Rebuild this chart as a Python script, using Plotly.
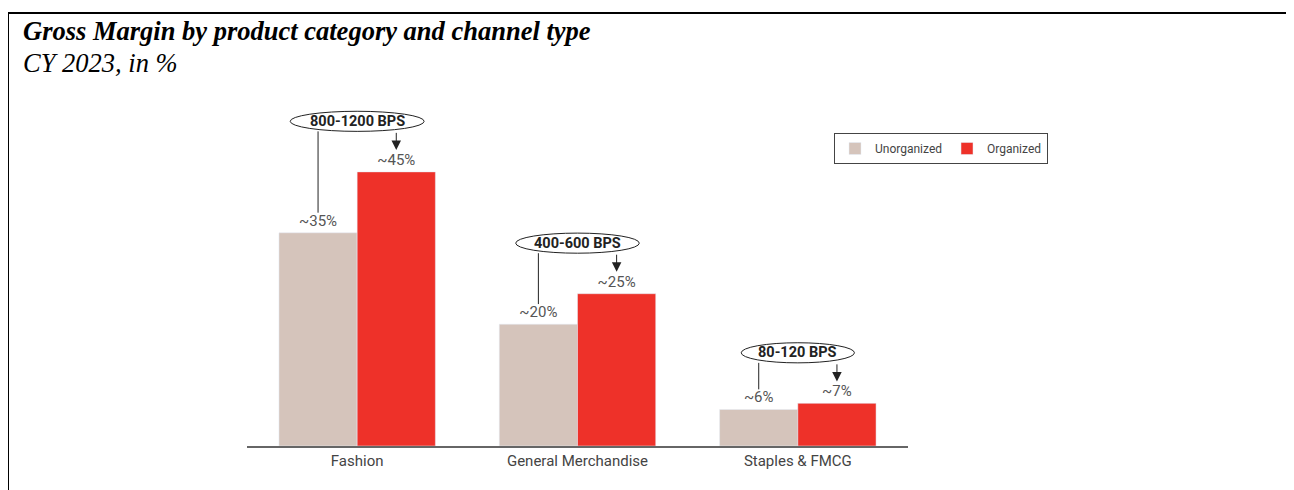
import plotly.graph_objects as go

categories = ["Fashion", "General Merchandise", "Staples & FMCG"]
unorganized = [35, 20, 6]
organized = [45, 25, 7]
bps_labels = ["800-1200 BPS", "400-600 BPS", "80-120 BPS"]
unorg_text = ["~35%", "~20%", "~6%"]
org_text = ["~45%", "~25%", "~7%"]

W, H = 1294, 490
O = 8  # page body offset
# plot area in window pixels: x 247..908, y 100..446
ml = 247 - O
mr = W - (908 - O)
mt = 100 - O
mb = H - (446 - O)
pw, ph = W - ml - mr, H - mt - mb
ymax = 56.8

xs = list(range(len(categories)))
bargap = 0.29
bw = (1 - bargap) / 2

fig = go.Figure()
fig.add_bar(x=xs, y=unorganized, name="Unorganized", marker_color="#D5C4BB",
            text=unorg_text, textposition="outside", cliponaxis=False,
            textfont=dict(family="Roboto", size=15, color="#555555"))
fig.add_bar(x=xs, y=organized, name="Organized", marker_color="#EE3129",
            text=org_text, textposition="outside", cliponaxis=False,
            textfont=dict(family="Roboto", size=15, color="#555555"))

shapes = []
annotations = []
for i in xs:
    xu = i - bw / 2
    xo = i + bw / 2
    ey = organized[i] + 8.3
    eh = 1.65
    ew = 0.0235 * len(bps_labels[i]) + 0.022
    shapes.append(dict(type="circle", xref="x", yref="y",
                       x0=i - ew, x1=i + ew, y0=ey - eh, y1=ey + eh,
                       line=dict(color="#222222", width=1), fillcolor="white", layer="above"))
    shapes.append(dict(type="line", xref="x", yref="y", x0=xu, x1=xu,
                       y0=ey - eh, y1=unorganized[i] + 3.3,
                       line=dict(color="#222222", width=1), layer="below"))
    annotations.append(dict(x=xo, y=organized[i] + 3.6, ax=xo, ay=ey - eh,
                            xref="x", yref="y", axref="x", ayref="y", text="",
                            showarrow=True, arrowhead=2, arrowsize=1.9, arrowwidth=1,
                            arrowcolor="#222222"))
    annotations.append(dict(x=i, y=ey, xref="x", yref="y", text="<b>" + bps_labels[i] + "</b>",
                            showarrow=False, font=dict(family="Roboto", size=14.5, color="#222222")))

# convert window pixel -> paper coords
px = lambda p: (p - O - ml) / pw
py = lambda p: (H - mb - (p - O)) / ph
shapes.append(dict(type="line", xref="paper", yref="paper", x0=px(8), x1=px(1310), y0=py(13), y1=py(13),
                   line=dict(color="black", width=2)))
shapes.append(dict(type="line", xref="paper", yref="paper", x0=px(8), x1=px(8), y0=py(13), y1=py(510),
                   line=dict(color="black", width=2)))

annotations.append(dict(xref="paper", yref="paper", x=px(21), y=py(31), xanchor="left", yanchor="middle",
                        text="<b><i>Gross Margin by product category and channel type</i></b>",
                        showarrow=False, font=dict(family="Liberation Serif", size=26.5, color="black")))
annotations.append(dict(xref="paper", yref="paper", x=px(21), y=py(63), xanchor="left", yanchor="middle",
                        text="<i>CY 2023, in %</i>",
                        showarrow=False, font=dict(family="Liberation Serif", size=26.5, color="black")))

fig.update_layout(
    width=W, height=H,
    margin=dict(l=ml, r=mr, t=mt, b=mb),
    plot_bgcolor="white", paper_bgcolor="white",
    barmode="group", bargap=bargap, bargroupgap=0,
    showlegend=True,
    legend=dict(orientation="h", x=px(834), y=py(133), xanchor="left", yanchor="top",
                bordercolor="#444444", borderwidth=1, bgcolor="white",
                font=dict(family="Roboto", size=12, color="#444444"),
                itemwidth=30, tracegroupgap=0),
    shapes=shapes, annotations=annotations,
    xaxis=dict(tickmode="array", tickvals=xs, ticktext=categories, range=[-0.5, 2.5],
               showline=True, linecolor="#666666", linewidth=1.5, showgrid=False, zeroline=False,
               ticks="", tickfont=dict(family="Roboto", size=15, color="#444444")),
    yaxis=dict(range=[0, ymax], visible=False, showgrid=False),
)

fig.write_html("out.html")
